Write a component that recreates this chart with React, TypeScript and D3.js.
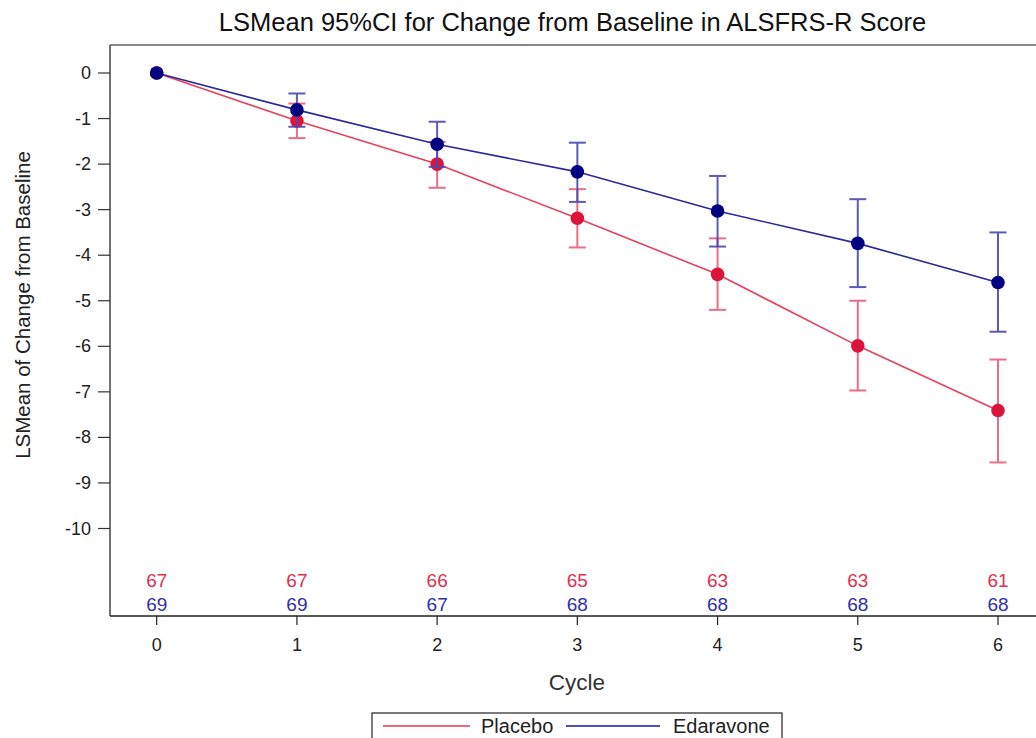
import React from "react";
import * as d3 from "d3";

const cycles = [0, 1, 2, 3, 4, 5, 6];
const placeboMean = [0, -1.05, -2.0, -3.19, -4.42, -5.99, -7.41];
const placeboLower = [0, -1.43, -2.52, -3.83, -5.2, -6.97, -8.55];
const placeboUpper = [0, -0.67, -1.51, -2.55, -3.63, -5.0, -6.29];
const edaMean = [0, -0.81, -1.565, -2.17, -3.03, -3.74, -4.6];
const edaLower = [0, -1.18, -2.06, -2.83, -3.81, -4.7, -5.68];
const edaUpper = [0, -0.45, -1.07, -1.53, -2.26, -2.77, -3.5];
const placeboN = [67, 67, 66, 65, 63, 63, 61];
const edaN = [69, 69, 67, 68, 68, 68, 68];
const yTicks = [0, -1, -2, -3, -4, -5, -6, -7, -8, -9, -10];

const FONT = "'Liberation Sans', Arial, sans-serif";

export default function App() {
  const W = 1036, H = 738;
  const left = 110, top = 45, right = 1040, bottom = 616;
  const x = d3.scaleLinear().domain([0, 6]).range([156.7, 998]);
  const y = d3.scaleLinear().domain([0, -10]).range([73, 528.5]);

  const line = d3.line<number>().x((_, i) => x(cycles[i])).y((v) => y(v));

  const series = [
    { name: "Placebo", mean: placeboMean, lo: placeboLower, hi: placeboUpper, n: placeboN,
      line: "#e8405e", marker: "#dc143c", bar: "#e8607a", text: "#e0304e", legend: "#ee6a82", ny: 587 },
    { name: "Edaravone", mean: edaMean, lo: edaLower, hi: edaUpper, n: edaN,
      line: "#2a2a9a", marker: "#000080", bar: "#4a4ab0", text: "#3030a8", legend: "#5050b8", ny: 611 },
  ];

  return (
    <svg width={W} height={H} style={{ position: "absolute", left: 0, top: 0, background: "#fff" }}
      fontFamily={FONT}>
      <rect x={0} y={0} width={W} height={H} fill="#fff" />
      <text x={572.5} y={31} textAnchor="middle" fontSize={25.5} fill="#111">
        LSMean 95%CI for Change from Baseline in ALSFRS-R Score
      </text>
      {/* frame */}
      <line x1={left} y1={top} x2={right} y2={top} stroke="#888" strokeWidth={2} />
      <line x1={left} y1={top} x2={left} y2={bottom} stroke="#444" strokeWidth={1.5} />
      <line x1={left} y1={bottom} x2={right} y2={bottom} stroke="#222" strokeWidth={1.5} />
      {/* y ticks */}
      {yTicks.map((t) => (
        <g key={t}>
          <line x1={left - 12} x2={left} y1={y(t)} y2={y(t)} stroke="#333" strokeWidth={1.2} />
          <text x={91} y={y(t) + 6} textAnchor="end" fontSize={18} fill="#222">{t}</text>
        </g>
      ))}
      {/* x ticks */}
      {cycles.map((c) => (
        <g key={c}>
          <line x1={x(c)} x2={x(c)} y1={bottom} y2={bottom + 9} stroke="#222" strokeWidth={1.2} />
          <text x={x(c)} y={651} textAnchor="middle" fontSize={18} fill="#222">{c}</text>
        </g>
      ))}
      <text x={577} y={690} textAnchor="middle" fontSize={22.5} fill="#333">Cycle</text>
      <text transform={`translate(30,${305}) rotate(-90)`} textAnchor="middle" fontSize={20.5} fill="#222">
        LSMean of Change from Baseline
      </text>
      {/* series */}
      {series.map((s) => (
        <g key={s.name}>
          <path d={line(s.mean) || ""} fill="none" stroke={s.line} strokeWidth={1.6} />
          {cycles.map((c, i) => i === 0 ? null : (
            <g key={c} stroke={s.bar} strokeWidth={2} opacity={0.9}>
              <line x1={x(c)} x2={x(c)} y1={y(s.lo[i])} y2={y(s.hi[i])} />
              <line x1={x(c) - 8.5} x2={x(c) + 8.5} y1={y(s.lo[i])} y2={y(s.lo[i])} />
              <line x1={x(c) - 8.5} x2={x(c) + 8.5} y1={y(s.hi[i])} y2={y(s.hi[i])} />
            </g>
          ))}
          {cycles.map((c, i) => (
            <circle key={c} cx={x(c)} cy={y(s.mean[i])} r={6.8} fill={s.marker} />
          ))}
          {cycles.map((c, i) => (
            <text key={"n" + c} x={x(c)} y={s.ny} textAnchor="middle" fontSize={19} fill={s.text}>
              {s.n[i]}
            </text>
          ))}
        </g>
      ))}
      {/* legend */}
      <rect x={372} y={713} width={410} height={40} fill="#fff" stroke="#222" strokeWidth={1.2} />
      <line x1={383} x2={470} y1={726} y2={726} stroke={series[0].legend} strokeWidth={2} />
      <text x={481} y={733} fontSize={20} fill="#222">Placebo</text>
      <line x1={566} x2={660} y1={726} y2={726} stroke={series[1].legend} strokeWidth={2} />
      <text x={673} y={733} fontSize={20} fill="#222">Edaravone</text>
    </svg>
  );
}
